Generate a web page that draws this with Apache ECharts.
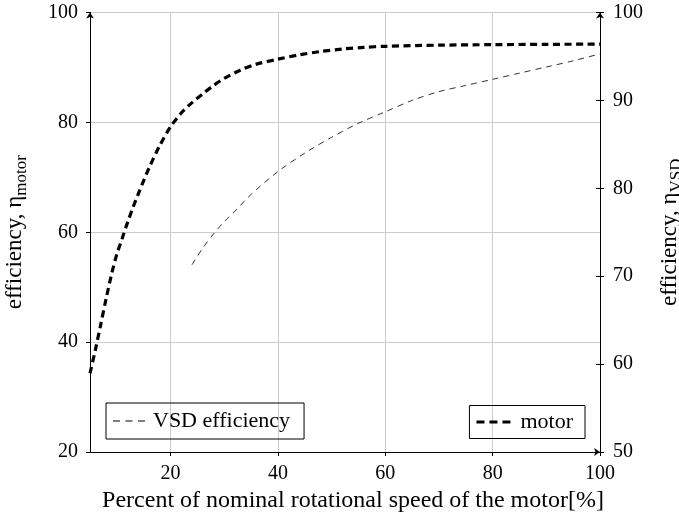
<!DOCTYPE html>
<html>
<head>
<meta charset="utf-8">
<script src="https://cdn.jsdelivr.net/npm/echarts@6/dist/echarts.min.js"></script>
<style>
  html, body { margin: 0; padding: 0; background: #fff; }
  #chart { width: 679px; height: 519px; }
</style>
</head>
<body>
<div id="chart"></div>
<script>
// Speed as percent of nominal, and efficiency curves
const motorSpeed = [5, 6, 7, 8, 9, 10, 11, 12, 13, 14, 15, 16, 18, 20, 22, 24, 26, 28, 30, 33, 36, 40, 44, 48, 52, 56, 60, 70, 80, 90, 100];
const motorEff   = [34.3, 38.6, 43.2, 47.9, 52.3, 56.0, 58.9, 61.8, 64.5, 67.0, 69.4, 71.7, 75.8, 79.2, 81.7, 83.6, 85.2, 86.7, 88.0, 89.5, 90.6, 91.5, 92.3, 92.9, 93.35, 93.65, 93.85, 94.05, 94.15, 94.2, 94.25];

const vsdSpeed = [24, 26, 28, 30, 32, 35, 40, 45, 50, 55, 60, 65, 70, 75, 80, 85, 90, 95, 100];
const vsdEff   = [71.3, 73.2, 74.8, 76.2, 77.4, 79.3, 81.9, 84.0, 85.8, 87.4, 88.7, 90.0, 91.0, 91.7, 92.4, 93.1, 93.8, 94.5, 95.3];

const FONT = 'Liberation Serif';
const zip = (xs, ys) => xs.map((x, i) => [x, ys[i]]);

// dashed legend keys drawn as filled paths (three dashes each)
const thinDashIcon  = 'path://M0,0h7v1h-7z M12.5,0h7v1h-7z M25,0h7v1h-7z';
const thickDashIcon = 'path://M0,0h8v3h-8z M13,0h8v3h-8z M26,0h8v3h-8z';

const chart = echarts.init(document.getElementById('chart'), null, { renderer: 'canvas' });

const axisLineStyle = { color: '#000', width: 1 };
const gridLineStyle = { color: '#cccccc', width: 1 };

function subscriptName(main, sub) {
  return {
    text: '{m|' + main + '}{s|' + sub + '}',
    style: {
      fontFamily: FONT, fontSize: 23, color: '#000',
      rich: {
        m: { fontFamily: FONT, fontSize: 23, color: '#000', verticalAlign: 'bottom', padding: [0, 0, 4, 0] },
        s: { fontFamily: FONT, fontSize: 17, color: '#000', verticalAlign: 'bottom' }
      }
    }
  };
}
const leftName = subscriptName('efficiency, η', 'motor');
const rightName = subscriptName('efficiency, η', 'VSD');

chart.setOption({
  animation: false,
  backgroundColor: '#fff',
  grid: { left: 90, right: 79, top: 12.5, bottom: 67, containLabel: false, outerBoundsMode: 'none' },
  legend: [
    {
      data: [{ name: 'VSD efficiency', icon: thinDashIcon }],
      left: 106, top: 403,
      orient: 'horizontal',
      itemWidth: 32, itemHeight: 1,
      symbolKeepAspect: false,
      padding: [7, 14, 7, 7],
      borderColor: '#000', borderWidth: 1,
      textStyle: { fontFamily: FONT, fontSize: 22, color: '#000', padding: [0, 0, 0, 3] }
    },
    {
      data: [{ name: 'motor', icon: thickDashIcon }],
      right: 94, top: 405.5,
      orient: 'horizontal',
      itemWidth: 34, itemHeight: 3,
      symbolKeepAspect: false,
      padding: [5.5, 12, 5.5, 7],
      borderColor: '#000', borderWidth: 1,
      textStyle: { fontFamily: FONT, fontSize: 22, color: '#000', padding: [0, 0, 0, 5] }
    }
  ],
  xAxis: {
    type: 'value',
    min: 5, max: 100,
    splitNumber: 5,
    name: 'Percent of nominal rotational speed of the motor[%]',
    nameLocation: 'middle',
    nameGap: 34,
    nameTextStyle: { fontFamily: FONT, fontSize: 24, color: '#000', padding: [0, 0, 0, 16] },
    axisLine: { show: true, lineStyle: axisLineStyle, symbol: ['none', 'arrow'], symbolSize: [6, 6] },
    axisTick: { show: true, length: 4, lineStyle: { color: '#000' } },
    axisLabel: { showMinLabel: false, margin: 12, fontFamily: FONT, fontSize: 20, color: '#000' },
    splitLine: { show: true, lineStyle: gridLineStyle }
  },
  yAxis: [
    {
      type: 'value',
      position: 'left',
      min: 20, max: 100, interval: 20,
      name: leftName.text,
      nameLocation: 'middle',
      nameGap: 60,
      nameTextStyle: leftName.style,
      axisLine: { show: true, lineStyle: axisLineStyle, symbol: ['none', 'arrow'], symbolSize: [6, 6] },
      axisTick: { show: true, length: 4, lineStyle: { color: '#000' } },
      axisLabel: { margin: 12, fontFamily: FONT, fontSize: 20, color: '#000' },
      splitLine: { show: true, lineStyle: gridLineStyle }
    },
    {
      type: 'value',
      position: 'right',
      min: 50, max: 100, interval: 10,
      name: rightName.text,
      nameLocation: 'middle',
      nameGap: 58,
      nameTextStyle: rightName.style,
      axisLine: { show: true, lineStyle: axisLineStyle, symbol: ['none', 'arrow'], symbolSize: [6, 6] },
      axisTick: { show: true, length: 4, lineStyle: { color: '#000' } },
      axisLabel: { margin: 13, fontFamily: FONT, fontSize: 20, color: '#000' },
      splitLine: { show: false }
    },
    {
      // inner half of the centred ticks on the right axis
      type: 'value',
      position: 'right',
      min: 50, max: 100, interval: 10,
      axisLine: { show: false },
      axisTick: { show: true, inside: true, length: 4, lineStyle: { color: '#000' } },
      axisLabel: { show: false },
      splitLine: { show: false }
    }
  ],
  series: [
    {
      name: 'VSD efficiency',
      type: 'line',
      yAxisIndex: 1,
      data: zip(vsdSpeed, vsdEff),
      smooth: 0.3,
      symbol: 'none',
      lineStyle: { color: '#000', width: 0.8, type: [6, 5] },
      itemStyle: { color: '#000' },
      z: 3
    },
    {
      name: 'motor',
      type: 'line',
      yAxisIndex: 0,
      data: zip(motorSpeed, motorEff),
      smooth: 0.3,
      symbol: 'none',
      lineStyle: { color: '#000', width: 3.2, type: [7, 4.5], cap: 'butt' },
      itemStyle: { color: '#000' },
      z: 4
    }
  ]
});
</script>
</body>
</html>
